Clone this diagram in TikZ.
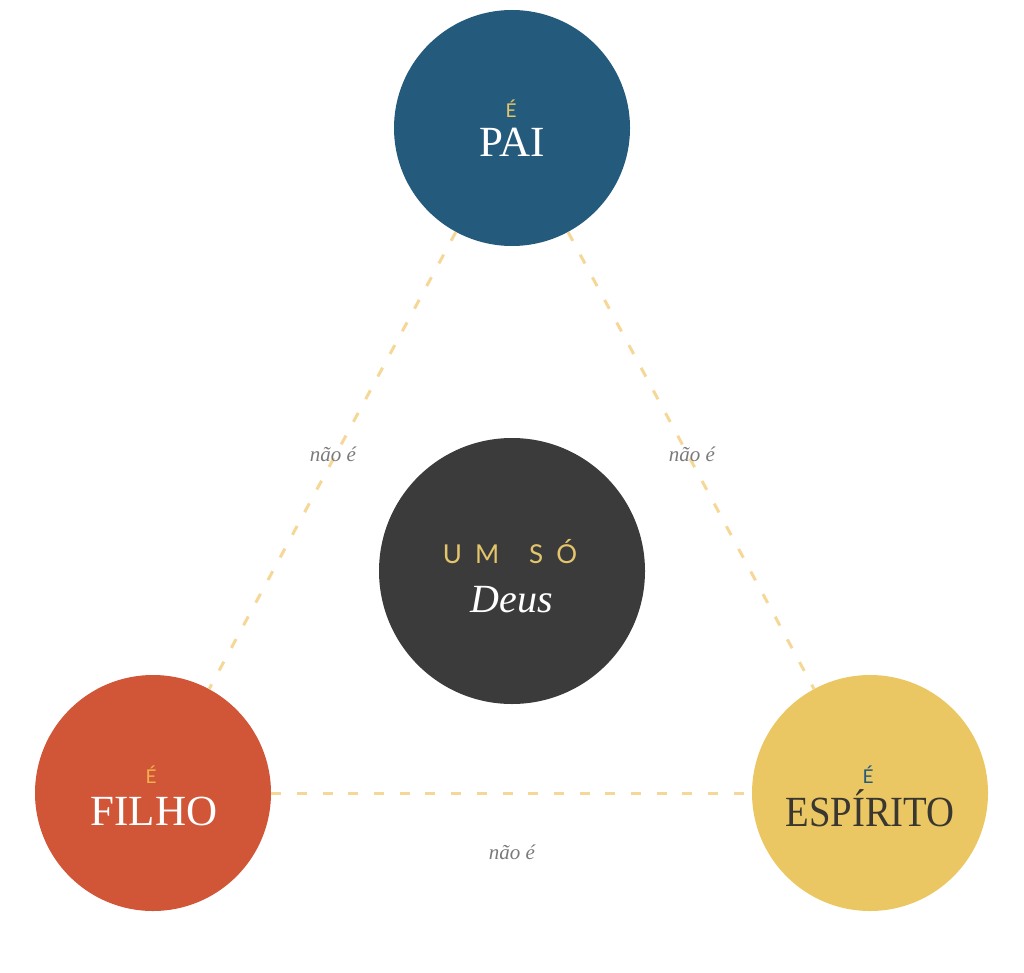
\documentclass[tikz,border=0pt]{standalone}
\usepackage{fontspec}
\setmainfont{Liberation Serif}
\newfontfamily\sansf{Lato}
\definecolor{paiblue}{HTML}{245B7D}
\definecolor{deusgray}{HTML}{3B3B3B}
\definecolor{filhored}{HTML}{D15537}
\definecolor{espgold}{HTML}{EBC763}
\definecolor{accgold}{HTML}{E4C56B}
\definecolor{accorange}{HTML}{F2B04E}
\definecolor{dashgold}{HTML}{F5D898}
\definecolor{labgray}{HTML}{7A7A7A}
\definecolor{darktext}{HTML}{3A3630}
\tikzset{
  person/.style={circle, minimum size=236pt, inner sep=0pt},
  link/.style={draw=dashgold, line width=3pt, dash pattern=on 10pt off 15.7pt},
  lab/.style={font=\fontsize{21}{21}\selectfont\itshape, text=labgray, inner sep=0pt},
  acc/.style={font=\sansf\fontsize{19}{19}\selectfont, inner sep=0pt, anchor=base},
  word/.style={font=\fontsize{43}{43}\selectfont, inner sep=0pt, anchor=base},
}
\begin{document}
\begin{tikzpicture}[x=1pt,y=-1pt]
\useasboundingbox (0,0) rectangle (1024,973);
\node[person, fill=paiblue] (pai) at (512,128) {};
\node[person, fill=filhored] (filho) at (153,793) {};
\node[person, fill=espgold] (esp) at (870,793) {};
\node[circle, minimum size=266pt, inner sep=0pt, fill=deusgray] (deus) at (512,571) {};
\draw[link] (pai) -- (filho);
\draw[link] (pai) -- (esp);
\draw[link] (filho) -- (esp);
\node[lab] (l1) at (333,454) {não é};
\node[lab] (l2) at (692,454) {não é};
\node[lab] (l3) at (512,852) {não é};
% PAI
\node[acc, text=accgold] (pe) at (511,118) {É};
\node[word, text=white] (pw) at (512,157) {PAI};
% FILHO
\node[acc, text=accorange] (fe) at (151,783) {É};
\node[word, text=white] (fw) at (154,825) {FILHO};
% ESPIRITO
\node[acc, text=paiblue] (ee) at (868,783) {É};
\node[word, text=darktext] (ew) at (870,826) {\scalebox{0.9}[1]{ESPÍRITO}};
% DEUS
\node[font=\sansf\fontsize{26}{26}\selectfont, text=accgold, inner sep=0pt, anchor=base] (um) at (510,563) {U\hspace{13pt}M\hspace{30pt}S\hspace{13pt}Ó};
\node[font=\fontsize{40}{40}\selectfont\itshape, text=white, inner sep=0pt, anchor=base] (dw) at (512,612) {Deus};
\end{tikzpicture}
\end{document}
